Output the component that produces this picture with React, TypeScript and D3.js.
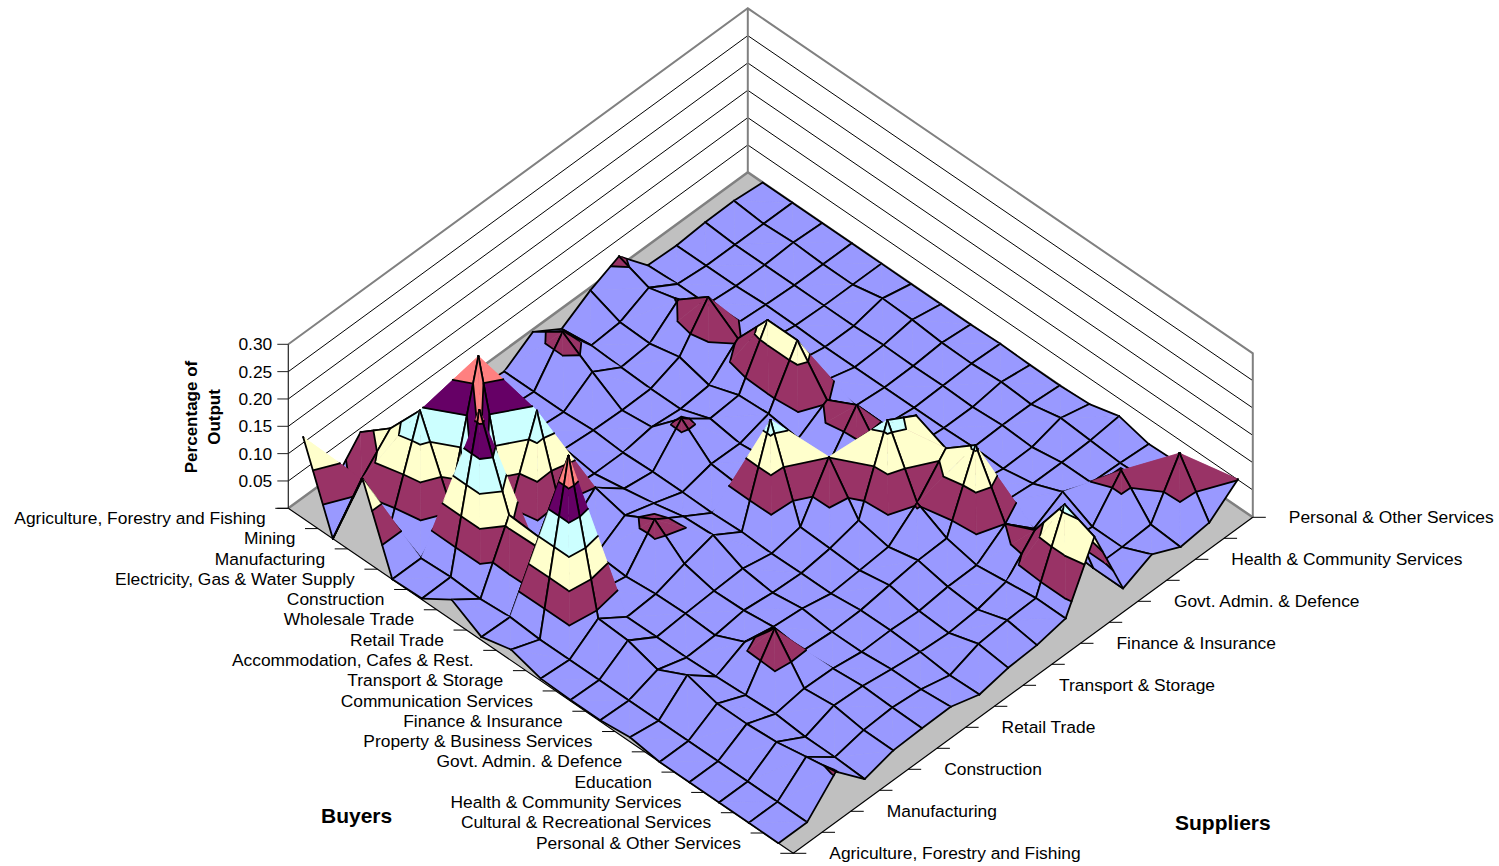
import React from "react";
import * as d3 from "d3";

// Industry names on the two floor axes
const buyers = [
  "Agriculture, Forestry and Fishing", "Mining", "Manufacturing", "Electricity, Gas & Water Supply",
  "Construction", "Wholesale Trade", "Retail Trade", "Accommodation, Cafes & Rest.",
  "Transport & Storage", "Communication Services", "Finance & Insurance", "Property & Business Services",
  "Govt. Admin. & Defence", "Education", "Health & Community Services",
  "Cultural & Recreational Services", "Personal & Other Services",
];
const suppliers = [
  "Agriculture, Forestry and Fishing", "Mining", "Manufacturing", "Electricity, Gas & Water Supply",
  "Construction", "Wholesale Trade", "Retail Trade", "Accommodation, Cafes & Rest.",
  "Transport & Storage", "Communication Services", "Finance & Insurance", "Property & Business Services",
  "Govt. Admin. & Defence", "Education", "Health & Community Services",
  "Cultural & Recreational Services", "Personal & Other Services",
];
const heightTicks = [0.05, 0.1, 0.15, 0.2, 0.25, 0.3];

// Share of output bought by each industry, one list per buyer, suppliers in axis order
const agriculture = [.149, .02, .081, .03, .01, .005, .005, 0, .034, .001, .033, .057, .002, 0, .004, .005, 0];
const mining = [0, .071, .125, .05, .01, .005, .005, 0, .071, .008, .012, .0366, .005, 0, 0, 0, 0];
const manufacturing = [.147, .03, .195, .05, .02, .01, .005, 0, .035, .005, .01, .052, .005, 0, 0, .003, 0];
const electricity = [0, 0, .062, .293, .03, .01, .0085, .0037, .002, .003, .0226, .094, .007, .003, 0, 0, 0];
const construction = [.002, .003, .27, .04, .192, .005, 0, 0, .0085, .003, .008, .055, .01, .002, 0, 0, 0];
const wholesale = [.037, 0, .115, .01, .003, .05, .0097, .002, .061, .0226, .027, .126, .01, 0, 0, .012, 0];
const retail = [.006, .004, .112, .01, .004, .0365, .02, .002, .015, .014, .03, .126, .015, 0, .002, .01, 0];
const accommodation = [.02, 0, .298, .01, 0, .066, .033, .001, .01, .02, .022, .054, .005, 0, .001, .005, 0];
const transport = [.004, 0, .037, .0016, .005, .022, .036, .0035, .17, .01, .01, .082, .007, 0, .002, .004, .002];
const communication = [.002, 0, .034, .002, .0064, .0095, .012, .001, .011, .101, .005, .01, .005, 0, 0, .0076, 0];
const finance = [.002, 0, .018, .0015, .004, .011, .005, .002, .009, .022, .167, .137, .002, .002, .004, .004, 0];
const property = [.008, 0, .045, .004, .029, .018, .013, .002, .006, .0106, .053, .114, .01, 0, .001, .016, .003];
const government = [0, 0, .03, .007, .09, .012, .0075, .0087, .016, .023, .025, .157, .015, .01, .01, .012, .018];
const education = [0, 0, .03, .01, .018, .016, .008, .009, .006, .012, .013, .05, .003, .032, .01, .008, .004];
const health = [0, 0, .034, .005, .024, .021, .0135, .0067, .003, .0074, .02, .076, .01, .005, .07, .01, .006];
const cultural = [0, 0, .044, .005, .016, .019, .014, .001, .02, .025, .027, .16, .005, .005, .008, .1, .01];
const personal = [0, 0, .054, .002, .016, .018, .019, .003, .0134, .0165, .027, .138, .005, .029, .004, .01, .051];

const surface = [
  agriculture, mining, manufacturing, electricity, construction, wholesale, retail, accommodation,
  transport, communication, finance, property, government, education, health, cultural, personal,
];

// Value bands of the surface and their fills
const bandEdges = [0, 0.05, 0.1, 0.15, 0.2, 0.25, 0.3];
const bandFills = ["#9999FF", "#993366", "#FFFFCC", "#CCFFFF", "#660066", "#FF8080"];

// Oblique projection: buyers run down-right, suppliers up-right, height straight up
const buyerX = d3.scaleLinear().domain([0, 17]).range([288.3, 793.3]);
const buyerY = d3.scaleLinear().domain([0, 17]).range([508.3, 853.3]);
const supplierX = d3.scaleLinear().domain([0, 16]).range([0, 459.5]);
const supplierY = d3.scaleLinear().domain([0, 16]).range([0, -336]);
const heightY = d3.scaleLinear().domain([0, 0.3]).range([0, -164]);

type V = { u: number; v: number; z: number };
const project = (p: V): [number, number] => [
  buyerX(p.u) + supplierX(p.v),
  buyerY(p.u) + supplierY(p.v) + heightY(p.z),
];
const node = (i: number, j: number): V => ({ u: i + 0.5, v: j, z: surface[i][j] });
const lerp = (a: V, b: V, level: number): V => {
  const t = (level - a.z) / (b.z - a.z);
  return { u: a.u + (b.u - a.u) * t, v: a.v + (b.v - a.v) * t, z: level };
};

// Keeps the part of a polygon on one side of a height level
function clipLevel(poly: V[], level: number, above: boolean): V[] {
  const inside = (p: V) => (above ? p.z >= level : p.z <= level);
  const out: V[] = [];
  poly.forEach((p, k) => {
    const q = poly[(k + 1) % poly.length];
    if (inside(p)) out.push(p);
    if (inside(p) !== inside(q)) out.push(lerp(p, q, level));
  });
  return out;
}

const linePath = d3.line<V>().x((p) => project(p)[0]).y((p) => project(p)[1]);
const closedPath = (poly: V[]) => (linePath(poly) ?? "") + "Z";

// One triangle of a cell: band fills, contour lines, then its grid edges
function facet(tri: V[], edges: [V, V][], key: string) {
  const parts: React.ReactElement[] = [];
  bandFills.forEach((fill, b) => {
    const low = b === 0 ? -1 : bandEdges[b];
    const high = b === bandFills.length - 1 ? 1 : bandEdges[b + 1];
    const piece = clipLevel(clipLevel(tri, low, true), high, false);
    if (piece.length > 2) {
      // A hair of same-colour stroke closes the seam along the cell diagonal
      parts.push(<path key={`${key}f${b}`} d={closedPath(piece)} fill={fill} stroke={fill} strokeWidth={0.5} strokeLinejoin="round" />);
    }
  });
  bandEdges.slice(1, -1).forEach((level, n) => {
    const hits: V[] = [];
    tri.forEach((p, k) => {
      const q = tri[(k + 1) % 3];
      if (p.z < level !== q.z < level) hits.push(lerp(p, q, level));
    });
    if (hits.length === 2) {
      parts.push(<path key={`${key}c${n}`} d={linePath(hits) ?? ""} fill="none" stroke="#000" strokeWidth={1.8} strokeLinecap="round" />);
    }
  });
  edges.forEach((e, n) => {
    parts.push(<path key={`${key}e${n}`} d={linePath(e) ?? ""} fill="none" stroke="#000" strokeWidth={1.8} strokeLinecap="round" />);
  });
  return parts;
}

// Walks the cells from the far corner to the near one so nearer facets paint over farther ones
function surfaceMarks() {
  const marks: React.ReactElement[] = [];
  for (let i = 0; i < surface.length - 1; i++) {
    for (let j = surface[i].length - 2; j >= 0; j--) {
      const left = node(i, j);
      const top = node(i, j + 1);
      const right = node(i + 1, j + 1);
      const bottom = node(i + 1, j);
      if (left.z + right.z >= top.z + bottom.z) {
        marks.push(...facet([left, top, right], [[left, top], [top, right]], `${i}-${j}a`));
        marks.push(...facet([left, bottom, right], [[left, bottom], [bottom, right]], `${i}-${j}b`));
      } else {
        marks.push(...facet([left, top, bottom], [[left, top], [left, bottom]], `${i}-${j}a`));
        marks.push(...facet([right, top, bottom], [[top, right], [bottom, right]], `${i}-${j}b`));
      }
    }
  }
  return marks;
}

const font = "'Liberation Sans', Arial, sans-serif";
const corner = (u: number, v: number, z = 0) => project({ u, v, z });
const seg = (a: [number, number], b: [number, number]) => d3.line()([a, b]) ?? "";

export default function App() {
  const left = corner(0, 0);
  const back = corner(0, 16);
  const right = corner(17, 16);
  const near = corner(17, 0);
  const leftTop = corner(0, 0, 0.3);
  const backTop = corner(0, 16, 0.3);
  const rightTop = corner(17, 16, 0.3);

  return (
    <svg width={1499} height={866} style={{ position: "absolute", left: 0, top: 0, background: "#fff" }} fontFamily={font}>
      {/* walls */}
      {heightTicks.slice(0, -1).map((t) => (
        <path key={t} d={d3.line()([corner(0, 0, t), corner(0, 16, t), corner(17, 16, t)]) ?? ""} fill="none" stroke="#000" strokeWidth={1} />
      ))}
      <path d={d3.line()([leftTop, backTop, rightTop, right]) ?? ""} fill="none" stroke="#808080" strokeWidth={2} />
      <path d={seg(backTop, back)} stroke="#808080" strokeWidth={2} />

      {/* floor */}
      <path d={(d3.line()([left, back, right, near]) ?? "") + "Z"} fill="#C0C0C0" stroke="none" />
      <path d={d3.line()([left, back, right]) ?? ""} fill="none" stroke="#808080" strokeWidth={2.5} />
      <path d={d3.line()([left, near, right]) ?? ""} fill="none" stroke="#000" strokeWidth={1.2} />

      {surfaceMarks()}

      {/* height axis */}
      <path d={seg(left, leftTop)} stroke="#222" strokeWidth={1.2} />
      {[0, ...heightTicks].map((t) => {
        const [x, y] = corner(0, 0, t);
        return <path key={t} d={seg([x - 11, y], [x, y])} stroke="#222" strokeWidth={1} />;
      })}
      {heightTicks.map((t) => {
        const [x, y] = corner(0, 0, t);
        return (
          <text key={t} x={x - 16} y={y + 6} textAnchor="end" fontSize={17.4} fill="#000">
            {d3.format(".2f")(t)}
          </text>
        );
      })}
      <text transform="translate(197,417) rotate(-90)" textAnchor="middle" fontSize={17} fontWeight="bold">Percentage of</text>
      <text transform="translate(220,417) rotate(-90)" textAnchor="middle" fontSize={17} fontWeight="bold">Output</text>

      {/* buyers axis */}
      {d3.range(18).map((u) => {
        const [x, y] = corner(u, 0);
        return <path key={u} d={seg([x - 13, y], [x, y])} stroke="#000" strokeWidth={1} />;
      })}
      {buyers.map((name, i) => {
        const [x, y] = corner(i + 0.5, 0);
        return (
          <text key={name} x={x - 37.5} y={y + 5.5} textAnchor="end" fontSize={17.4} fill="#000">
            {name}
          </text>
        );
      })}

      {/* suppliers axis */}
      {suppliers.map((name, j) => {
        const [x, y] = corner(17, j);
        return <path key={name} d={seg([x, y], [x + 13, y])} stroke="#000" strokeWidth={1} />;
      })}
      {suppliers.map((name, j) => {
        if (j % 2) return null;
        const [x, y] = corner(17, j);
        return (
          <text key={name} x={x + 36} y={y + 6} fontSize={17.4} fill="#000">
            {name}
          </text>
        );
      })}

      <text x={321} y={823} fontSize={21} fontWeight="bold">Buyers</text>
      <text x={1175} y={830} fontSize={21} fontWeight="bold">Suppliers</text>
    </svg>
  );
}
